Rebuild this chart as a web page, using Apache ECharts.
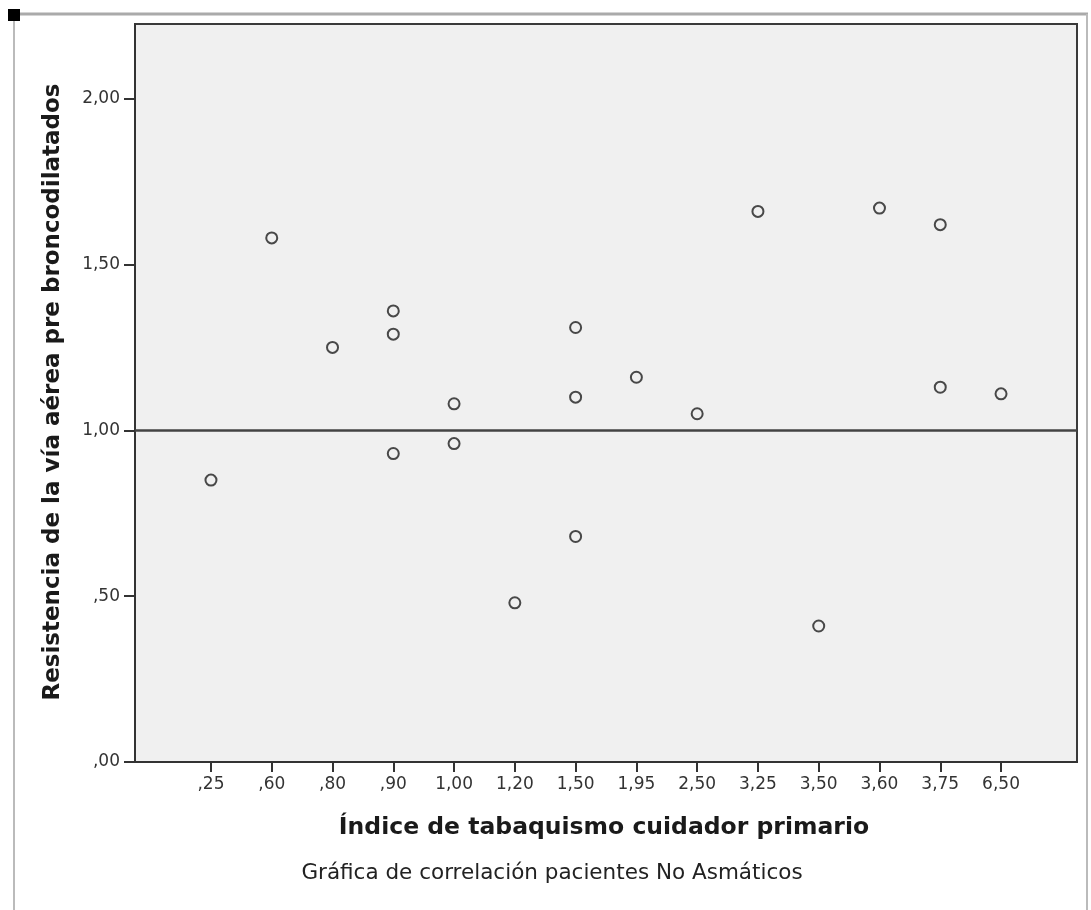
<!DOCTYPE html>
<html>
<head>
<meta charset="utf-8">
<script src="https://cdn.jsdelivr.net/npm/echarts@6/dist/echarts.min.js"></script>
<style>
html,body{margin:0;padding:0;background:#fff;}
#chart{width:1091px;height:910px;}
</style>
</head>
<body>
<div id="chart"></div>
<script>
const categories = [',25', ',60', ',80', ',90', '1,00', '1,20', '1,50', '1,95', '2,50', '3,25', '3,50', '3,60', '3,75', '6,50'];
// each point: [category label, resistance value]
const pointCategory = [',25', ',60', ',80', ',90', ',90', ',90', '1,00', '1,00', '1,20', '1,50', '1,50', '1,50', '1,95', '2,50', '3,25', '3,50', '3,60', '3,75', '3,75', '6,50'];
const pointValue = [0.85, 1.58, 1.25, 1.36, 1.29, 0.93, 1.08, 0.96, 0.48, 1.31, 1.10, 0.68, 1.16, 1.05, 1.66, 0.41, 1.67, 1.62, 1.13, 1.11];
const yTicks = [0, 0.5, 1.0, 1.5, 2.0];
const referenceValue = 1.0;

const xTitle = 'Índice de tabaquismo cuidador primario';
const yTitle = 'Resistencia de la vía aérea pre broncodilatados';
const caption = 'Gráfica de correlación pacientes No Asmáticos';

const FONT = 'DejaVu Sans';
const catIdx = categories.map((c, i) => i);
const data = pointCategory.map((c, i) => [categories.indexOf(c), pointValue[i]]);

function fmtY(v) {
  let s = v.toFixed(2).replace('.', ',');
  if (s.startsWith('0')) s = s.slice(1);
  return s;
}

const chart = echarts.init(document.getElementById('chart'), null, {renderer: 'canvas'});
chart.setOption({
  animation: false,
  backgroundColor: '#ffffff',
  grid: {left: 135, top: 24, right: 14, bottom: 148, show: true, backgroundColor: '#f0f0f0', borderColor: '#3a3a3a', borderWidth: 2},
  xAxis: {
    type: 'value', min: -1.25, max: 14.25,
    splitLine: {show: false},
    axisLine: {show: true, onZero: false, lineStyle: {color: '#333', width: 2}},
    axisTick: {show: true, length: 10, customValues: catIdx, lineStyle: {color: '#333', width: 2}},
    axisLabel: {customValues: catIdx, formatter: v => categories[Math.round(v)], color: '#333', fontFamily: FONT, fontSize: 17, margin: 14}
  },
  yAxis: {
    type: 'value', min: 0, max: 2.225,
    splitLine: {show: false},
    axisLine: {show: true, onZero: false, lineStyle: {color: '#333', width: 2}},
    axisTick: {show: true, length: 11, customValues: yTicks, lineStyle: {color: '#333', width: 2}},
    axisLabel: {customValues: yTicks, formatter: v => fmtY(v), color: '#333', fontFamily: FONT, fontSize: 17, margin: 15}
  },
  series: [{
    type: 'scatter',
    data: data,
    symbol: 'circle',
    symbolSize: 11,
    itemStyle: {color: 'rgba(0,0,0,0)', borderColor: '#1e1e1e', borderWidth: 2},
    markLine: {
      silent: true, symbol: 'none', label: {show: false},
      lineStyle: {color: '#444', width: 2.5, type: 'solid'},
      data: [{yAxis: referenceValue}]
    }
  }],
  graphic: [
    {type: 'rect', shape: {x: 8, y: 9, width: 12, height: 12}, style: {fill: '#000'}, z: 10},
    {type: 'line', shape: {x1: 14, y1: 14, x2: 1088, y2: 14}, style: {stroke: '#aaa', lineWidth: 3}},
    {type: 'line', shape: {x1: 14, y1: 14, x2: 14, y2: 910}, style: {stroke: '#bbb', lineWidth: 2}},
    {type: 'line', shape: {x1: 1087, y1: 14, x2: 1087, y2: 910}, style: {stroke: '#bbb', lineWidth: 2}},
    {type: 'text', x: 53, y: 392, rotation: Math.PI / 2, style: {text: yTitle, fontFamily: FONT, fontWeight: 'bold', fontSize: 23, fill: '#1a1a1a', align: 'center', verticalAlign: 'middle'}},
    {type: 'text', x: 604, y: 828, style: {text: xTitle, fontFamily: FONT, fontWeight: 'bold', fontSize: 23.5, fill: '#1a1a1a', align: 'center', verticalAlign: 'middle'}},
    {type: 'text', x: 552, y: 873, style: {text: caption, fontFamily: FONT, fontSize: 21.5, fill: '#222', align: 'center', verticalAlign: 'middle'}}
  ]
});
</script>
</body>
</html>
